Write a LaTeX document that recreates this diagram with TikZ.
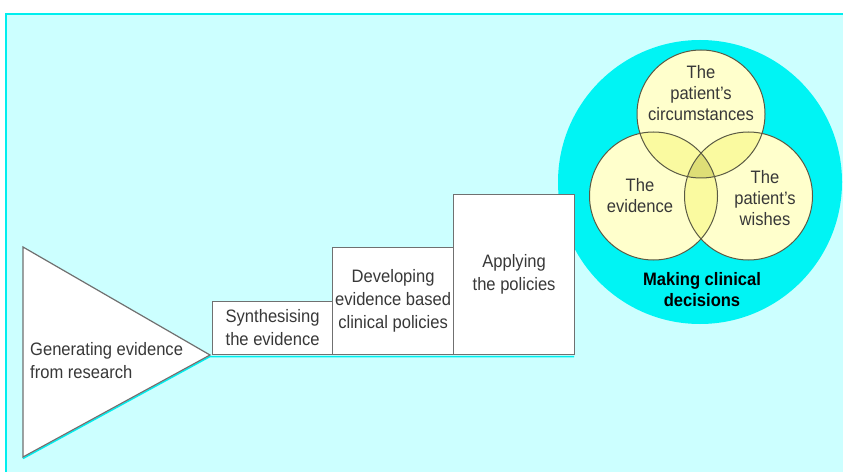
\documentclass[tikz,border=0pt]{standalone}
\usepackage{fontspec}
\setmainfont{Liberation Sans}[FakeStretch=0.92]
\definecolor{bgcyan}{HTML}{CCFFFF}
\definecolor{edgecyan}{HTML}{00EEEE}
\definecolor{ringcyan}{HTML}{00F4F4}
\definecolor{boxgray}{HTML}{707070}
\definecolor{txtgray}{HTML}{383838}
\definecolor{pale}{HTML}{FFFFCC}
\definecolor{pair}{HTML}{FAFAA0}
\definecolor{core}{HTML}{DEDE76}
\definecolor{vennline}{HTML}{5A5A44}

\begin{document}
\begin{tikzpicture}[x=1pt,y=1pt,
  txt/.style={text=txtgray, font=\fontsize{18}{23}\selectfont, align=center, inner sep=0pt},
  step box/.style={draw=boxgray, line width=1.2pt, fill=white, anchor=south west, inner sep=0pt,
    txt},
  venntxt/.style={txt, font=\fontsize{18}{21}\selectfont}]
  \useasboundingbox (0,0) rectangle (843,472);
  \fill[bgcyan] (6,0) rectangle (843,458);
  \draw[edgecyan, line width=2pt] (6,0) -- (6,458) -- (843,458);

  % the ring of decisions
  \coordinate (ring) at (700,290);
  \coordinate (c1) at (701,358);
  \coordinate (c2) at (653.5,276);
  \coordinate (c3) at (748.5,276);
  \fill[ringcyan] (ring) circle (142);
  \fill[pale] (c1) circle (64) (c2) circle (64) (c3) circle (64);
  \begin{scope}
    \clip (c1) circle (64);
    \fill[pair] (c2) circle (64) (c3) circle (64);
  \end{scope}
  \begin{scope}
    \clip (c2) circle (64);
    \fill[pair] (c3) circle (64);
    \clip (c3) circle (64);
    \fill[core] (c1) circle (64);
  \end{scope}
  \draw[vennline, line width=1pt] (c1) circle (64) (c2) circle (64) (c3) circle (64);

  \node[venntxt] (circ) at (701,379) {The\\patient's\\circumstances};
  \node[venntxt] (evid) at (640,276) {The\\evidence};
  \node[venntxt] (wish) at (765,274) {The\\patient's\\wishes};
  \node[txt, text=black, font=\fontsize{18}{21}\bfseries\selectfont] (decide) at (702,182)
    {Making clinical\\decisions};

  % the triangle and the steps
  \coordinate (t1) at (23,15);
  \coordinate (t2) at (23,225);
  \coordinate (tip) at (210,117);
  \draw[edgecyan, line width=1.5pt] ([yshift=-1.5pt]t1) -- ([yshift=-1.5pt]tip) -- (574,115.5);
  \draw[boxgray, line width=1.2pt, fill=white, line join=miter] (t1) -- (t2) -- (tip) -- cycle;
  \node[txt, anchor=west, align=left] (gen) at (30,111) {Generating evidence\\from research};

  \node[step box, minimum width=120, minimum height=53] (synth) at (212,117)
    {Synthesising\\the evidence};
  \node[step box, minimum width=121, minimum height=107] (devel) at (332,117)
    {Developing\\evidence based\\clinical policies};
  \node[step box, minimum width=121, minimum height=160] (apply) at (453,117)
    {Applying\\the policies};
\end{tikzpicture}
\end{document}
